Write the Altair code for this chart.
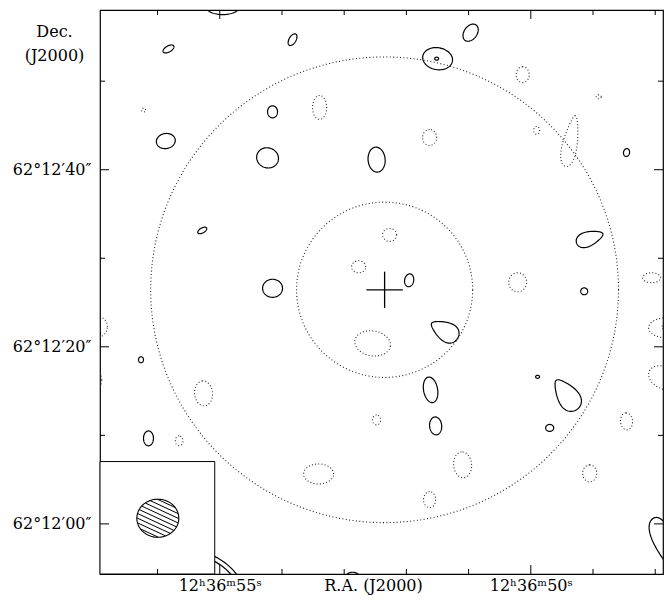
import numpy as np
import pandas as pd
import altair as alt

# ---- map geometry -------------------------------------------------------
RA0 = 52.35          # map centre: 12h36m RA0 s
DEC0 = 26.44         # map centre: 62deg12' DEC0 "
SEC = 15 * np.cos(np.radians(62 + 12 / 60 + DEC0 / 3600))   # arcsec per second of RA
FOV_E, FOV_W, FOV_S, FOV_N = 32.0, 31.3, 32.1, 31.6         # arcsec from centre
RA_LO, RA_HI = RA0 - FOV_W / SEC, RA0 + FOV_E / SEC
DEC_LO, DEC_HI = DEC0 - FOV_S, DEC0 + FOV_N

# ---- positive (solid) contours: offsets east/north ("), semi-axes ("), angle (deg), asymmetry
pos_e = [18.2, 24.3, 10.35, -5.96, -5.85, -9.67, 24.6, 12.6, 13.16, 0.9, -27.2, 20.5, -2.76, 12.6,
         -23.06, -22.44, -6.75, -5.17, -20.47, -17.2, -18.56, -5.74, 27.39, 26.55, 3.6, 22.16, 22.16, -31.05]
pos_n = [31.98, 27.2, 28.25, 26.1, 26.1, 29.04, 16.8, 20.1, 14.9, 14.7, 15.5, 6.7, 1.07, 0.17,
         5.8, -0.17, -4.63, -11.3, -11.86, -9.83, -15.6, -15.37, -7.9, -16.78, -32.3, -36.4, -36.4, -28.25]
pos_a = [1.9, 0.68, 0.73, 1.69, 0.22, 1.07, 1.07, 0.68, 1.24, 1.41, 0.45, 0.56, 0.73, 1.12,
         1.57, 0.39, 1.69, 1.46, 2.02, 0.22, 0.45, 1.01, 0.34, 0.84, 0.68, 6.98, 6.48, 2.6]
pos_b = [0.9, 0.34, 0.39, 1.24, 0.17, 0.73, 0.85, 0.56, 1.13, 0.96, 0.34, 0.28, 0.51, 1.02,
         0.79, 0.39, 1.02, 0.79, 1.13, 0.17, 0.39, 0.68, 0.28, 0.56, 0.4, 6.98, 6.48, 0.9]
pos_pa = [0, 30, 60, -10, 0, 55, 10, 90, -20, 95, 80, 30, 80, 0,
          20, 0, -30, 100, -55, 0, 0, 95, 90, 90, 0, 0, 0, -75]
pos_k = [0, 0, 0, 0, 0, 0, 0, 0, 0, 0, 0, 0, 0, 0,
         0.35, 0, -0.4, 0, -0.4, 0, 0, 0, 0, 0, 0, 0, 0, 0.5]

# ---- negative (dotted) contours
neg_e = [-15.52, -24.07, 27.1, 7.31, -5.06, -17.1, -20.9, -0.56, 2.92, -14.96, -30.03, -31.7, -31.5,
         -31.4, 1.35, -27.2, 0.9, 20.36, 23.1, 32.17, 32.3, 32.3, 7.42, -8.77, -23.06, -5.06]
neg_n = [24.3, 21.8, 20.3, 20.6, 17.2, 18.0, 16.8, 6.2, 2.6, 0.85, 1.36, -4.3, -4.2,
         -9.94, -6.05, -14.86, -14.7, -11.7, -17.06, -4.18, -10.17, -16.05, -20.8, -19.77, -20.73, -23.7]
neg_a = [0.9, 0.28, 0.22, 1.35, 0.9, 0.45, 2.92, 0.79, 0.79, 1.07, 1.01, 2.02, 0.34,
         1.8, 2.02, 0.96, 0.56, 1.41, 0.56, 1.0, 0.5, 0.35, 1.69, 1.46, 0.96, 0.9]
neg_b = [0.73, 0.22, 0.22, 0.79, 0.79, 0.34, 0.79, 0.73, 0.68, 1.0, 0.56, 1.13, 0.23,
         1.24, 1.41, 0.68, 0.45, 1.01, 0.43, 1.13, 0.9, 0.6, 1.13, 1.01, 0.79, 0.68]
neg_pa = [90, 0, 0, 90, 90, 90, 79, 0, 0, 90, 0, 0, 0,
          -25, -10, 95, 90, 95, 90, 0, 0, 0, 0, 95, 90, 90]
neg_k = [0, 0, 0, 0, 0, 0, 0.4, 0, 0, 0, 0, 0, 0,
         0, 0, 0, 0, 0, 0, 0, 0, 0, 0, 0, 0, 0]

# ---- rings (dotted circles) around the centre, radius in arcsec
ring_r = [9.9, 26.3]
cross_half = 2.05           # arcsec, half length of the cross arms

# ---- synthesized beam (inset)
beam_e, beam_n, beam_a, beam_b = 25.5, -25.8, 2.36, 2.15
hatch_angle, hatch_step = -25, 0.48
inset_e, inset_n = 19.1, -19.4     # inset box corner (east, north offsets)

# ---- tick values
ra_major = [50, 55]
ra_minor = [48, 49, 51, 52, 53, 54, 56]
dec_major = [0, 20, 40]
dec_minor = [10, 30, 50]


def outline(e, n, a, b, pa, k, npts=96):
    t = np.linspace(0, 2 * np.pi, npts + 1)
    p = a * np.cos(t)
    q = b * np.sin(t) * (1 - k * np.cos(t))
    th = np.radians(pa)
    u = p * np.cos(th) - q * np.sin(th)      # towards west (right)
    v = p * np.sin(th) + q * np.cos(th)      # towards north (up)
    return RA0 + (e - u) / SEC, DEC0 + n + v


def contour_frame(E, N, A, B, PA, K, npts=96):
    rows = []
    for i, (e, n, a, b, pa, k) in enumerate(zip(E, N, A, B, PA, K)):
        ra, dec = outline(e, n, a, b, pa, k, npts)
        for j in range(len(ra)):
            rows.append({"cid": i, "o": j, "ra": ra[j], "dec": dec[j]})
    return pd.DataFrame(rows)


pos_df = contour_frame(pos_e, pos_n, pos_a, pos_b, pos_pa, pos_k)
neg_df = contour_frame(neg_e, neg_n, neg_a, neg_b, neg_pa, neg_k)
ring_df = contour_frame([0] * len(ring_r), [0] * len(ring_r), ring_r, ring_r,
                        [0] * len(ring_r), [0] * len(ring_r), npts=400)
beam_df = contour_frame([beam_e], [beam_n], [beam_a], [beam_b], [0], [0])

cross_df = pd.DataFrame({
    "ra": [RA0 + cross_half / SEC, RA0],
    "ra2": [RA0 - cross_half / SEC, RA0],
    "dec": [DEC0, DEC0 - cross_half],
    "dec2": [DEC0, DEC0 + cross_half],
})

# hatch chords inside the beam ellipse
phi = np.radians(hatch_angle)
du, dv = np.cos(phi), np.sin(phi)
nu, nv = -np.sin(phi), np.cos(phi)
hrows = []
for p in np.arange(-2.4, 2.41, hatch_step):
    A2 = (du / beam_a) ** 2 + (dv / beam_b) ** 2
    B2 = 2 * p * (nu * du / beam_a ** 2 + nv * dv / beam_b ** 2)
    C2 = (p * nu / beam_a) ** 2 + (p * nv / beam_b) ** 2 - 1
    disc = B2 ** 2 - 4 * A2 * C2
    if disc <= 0:
        continue
    s1 = (-B2 - np.sqrt(disc)) / (2 * A2)
    s2 = (-B2 + np.sqrt(disc)) / (2 * A2)
    u1, v1 = p * nu + s1 * du, p * nv + s1 * dv
    u2, v2 = p * nu + s2 * du, p * nv + s2 * dv
    hrows.append({"ra": RA0 + (beam_e - u1) / SEC, "dec": DEC0 + beam_n + v1,
                  "ra2": RA0 + (beam_e - u2) / SEC, "dec2": DEC0 + beam_n + v2})
hatch_df = pd.DataFrame(hrows)

inset_df = pd.DataFrame({"ra": [RA_HI], "ra2": [RA0 + inset_e / SEC],
                         "dec": [DEC_LO], "dec2": [DEC0 + inset_n]})

W, H = 563, 564
FONT = "DejaVu Serif"

xs = alt.Scale(domain=[RA_LO, RA_HI], reverse=True, nice=False, zero=False)
ys = alt.Scale(domain=[DEC_LO, DEC_HI], nice=False, zero=False)
xax = alt.Axis(values=ra_major, labelExpr="'12ʰ36ᵐ' + datum.value + 'ˢ'",
               ticks=False, tickSize=0, domain=False, grid=False,
               labelFont=FONT, labelFontSize=16, labelColor="black",
               labelBaseline="alphabetic", labelPadding=16,
               title="R.A. (J2000)", titleFont=FONT, titleFontSize=16, titleFontWeight="normal",
               titleColor="black", titleBaseline="alphabetic", titleX=273, titleY=16, titlePadding=0)
yax = alt.Axis(values=dec_major,
               labelExpr="'62°12′' + (datum.value < 10 ? '0' : '') + datum.value + '″'",
               ticks=False, tickSize=0, domain=False, grid=False,
               labelFont=FONT, labelFontSize=16, labelColor="black", labelPadding=9,
               title=["Dec.", "(J2000)"], titleFont=FONT, titleFontSize=16,
               titleFontWeight="normal", titleColor="black", titleAngle=0,
               titleAlign="center", titleBaseline="alphabetic", titleX=-46, titleY=26,
               titleLineHeight=24)

X = alt.X("ra:Q", scale=xs, axis=xax)
Y = alt.Y("dec:Q", scale=ys, axis=yax)

dots = [1, 2.2]

rings = alt.Chart(ring_df).mark_line(color="#222", strokeWidth=1.1, strokeDash=[1, 2.4], clip=True).encode(
    x=X, y=Y, detail="cid:N", order="o:Q")
neg = alt.Chart(neg_df).mark_line(color="#222", strokeWidth=1.1, strokeDash=dots, clip=True).encode(
    x=X, y=Y, detail="cid:N", order="o:Q")
pos = alt.Chart(pos_df).mark_line(color="black", strokeWidth=1.2, clip=True).encode(
    x=X, y=Y, detail="cid:N", order="o:Q")
cross = alt.Chart(cross_df).mark_rule(color="black", strokeWidth=1.3).encode(
    x=X, x2="ra2:Q", y=Y, y2="dec2:Q")
inset = alt.Chart(inset_df).mark_rect(fill="white", stroke="black", strokeWidth=1).encode(
    x=X, x2="ra2:Q", y=Y, y2="dec2:Q")
beam = alt.Chart(beam_df).mark_line(color="black", strokeWidth=1.1).encode(
    x=X, y=Y, detail="cid:N", order="o:Q")
hatch = alt.Chart(hatch_df).mark_rule(color="black", strokeWidth=1).encode(
    x=X, x2="ra2:Q", y=Y, y2="dec2:Q")

ramaj = pd.DataFrame({"ra": ra_major})
ramin = pd.DataFrame({"ra": ra_minor})
decmaj = pd.DataFrame({"dec": dec_major})
decmin = pd.DataFrame({"dec": dec_minor})
tk = dict(color="black", strokeWidth=1)
MAJ, MIN = 9, 5
ticks = [
    alt.Chart(ramaj).mark_rule(**tk).encode(x=X, y=alt.value(0), y2=alt.value(MAJ)),
    alt.Chart(ramin).mark_rule(**tk).encode(x=X, y=alt.value(0), y2=alt.value(MIN)),
    alt.Chart(ramaj).mark_rule(**tk).encode(x=X, y=alt.value(H), y2=alt.value(H - MAJ)),
    alt.Chart(ramin).mark_rule(**tk).encode(x=X, y=alt.value(H), y2=alt.value(H - MIN)),
    alt.Chart(decmaj).mark_rule(**tk).encode(y=Y, x=alt.value(0), x2=alt.value(MAJ)),
    alt.Chart(decmin).mark_rule(**tk).encode(y=Y, x=alt.value(0), x2=alt.value(MIN)),
    alt.Chart(decmaj).mark_rule(**tk).encode(y=Y, x=alt.value(W), x2=alt.value(W - MAJ)),
    alt.Chart(decmin).mark_rule(**tk).encode(y=Y, x=alt.value(W), x2=alt.value(W - MIN)),
]

chart = alt.layer(rings, neg, pos, cross, inset, beam, hatch, *ticks).properties(
    width=W, height=H,
    autosize=alt.AutoSizeParams(type="none"),
    padding={"left": 92, "top": 2, "right": 1, "bottom": 21},
    background="white",
).configure_view(stroke="black", strokeWidth=1.2)

chart.save("out.html", embed_options={"renderer": "svg", "actions": False})
